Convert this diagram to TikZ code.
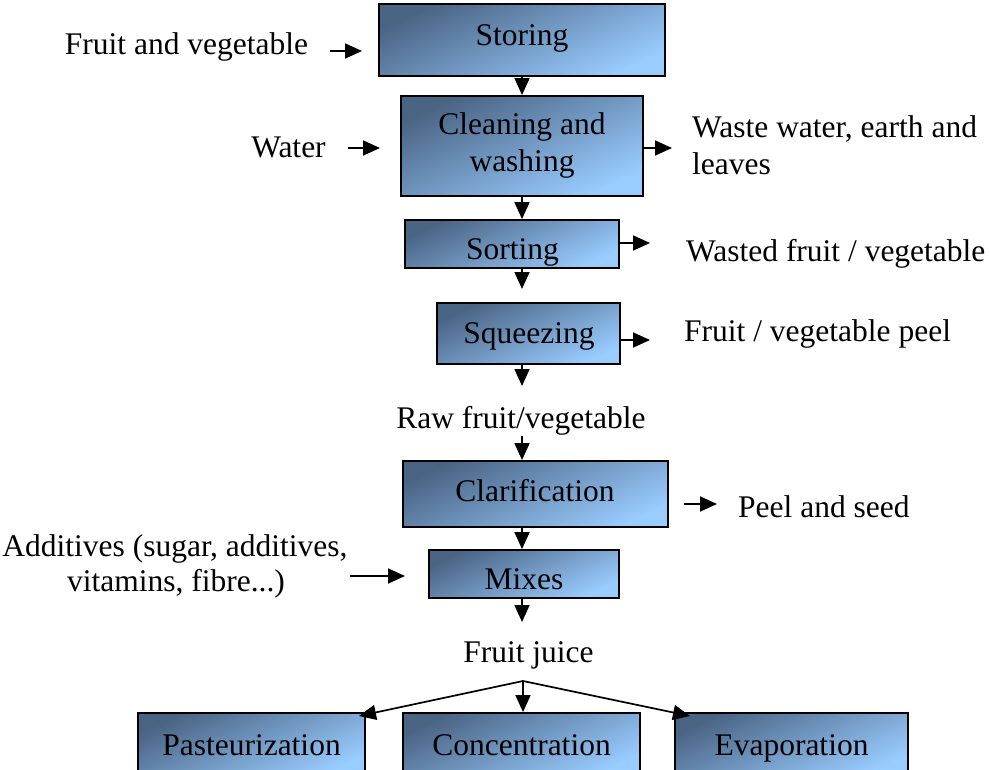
\documentclass[tikz,border=0pt]{standalone}
\usepackage{fontspec}
\setmainfont{Liberation Serif}
\usetikzlibrary{arrows.meta}
\definecolor{boxdark}{RGB}{74,100,132}
\definecolor{boxlight}{RGB}{153,204,255}
\tikzset{
  procbox/.style={draw=black, line width=1.8pt, inner sep=0pt,
    top color=boxdark, bottom color=boxlight, shading angle=25},
  lbl/.style={font=\fontsize{31.5}{37}\selectfont, inner sep=0pt, anchor=base},
  lbll/.style={lbl, anchor=base west},
  flow/.style={line width=1.7pt, -{Triangle[length=17pt,width=15pt]}},
}
\begin{document}
\begin{tikzpicture}[x=1pt,y=-1pt]
\clip (0,0) rectangle (990,770);
\fill[white] (0,0) rectangle (990,770);
\coordinate (c) at (522,0);
% boxes
\node[procbox, minimum width=286pt, minimum height=72pt] (storing) at (522,40) {};
\node[procbox, minimum width=242pt, minimum height=100pt] (cleaning) at (522,146) {};
\node[procbox, minimum width=214pt, minimum height=48pt] (sorting) at (512,244) {};
\node[procbox, minimum width=183pt, minimum height=61pt] (squeezing) at (528.5,333.5) {};
\node[procbox, minimum width=265pt, minimum height=66pt] (clarif) at (535.5,494) {};
\node[procbox, minimum width=190pt, minimum height=48pt] (mixes) at (524,574) {};
\node[procbox, minimum width=227pt, minimum height=62pt] (past) at (251.5,744) {};
\node[procbox, minimum width=237pt, minimum height=62pt] (conc) at (521.5,744) {};
\node[procbox, minimum width=233pt, minimum height=62pt] (evap) at (791.5,744) {};
% box texts
\node[lbl] (tstoring) at (522,46) {Storing};
\node[lbl] (tclean1) at (522,135) {Cleaning and};
\node[lbl] (tclean2) at (522,172) {washing};
\begin{scope}
  \clip ([yshift=1pt]sorting.south west) rectangle (sorting.north east);
  \node[lbl] (tsorting) at (512.5,259) {Sorting};
\end{scope}
\node[lbl] (tsqueeze) at (529,343) {Squeezing};
\node[lbl] (tclarif) at (535,501) {Clarification};
\node[lbl] (tmixes) at (524,589) {Mixes};
\node[lbl] (tpast) at (251.5,755) {Pasteurization};
\node[lbl] (tconc) at (521.5,755) {Concentration};
\node[lbl] (tevap) at (791.5,755) {Evaporation};
% side texts
\node[lbl] (fv) at (186.5,55) {Fruit and vegetable};
\node[lbl] (water) at (288.5,158) {Water};
\node[lbll] (waste1) at (692,138) {Waste water, earth and};
\node[lbll] (waste2) at (692,175) {leaves};
\node[lbll] (wasted) at (686,261) {Wasted fruit / vegetable};
\node[lbll] (peel) at (684,341) {Fruit / vegetable peel};
\node[lbl] (raw) at (521,428) {Raw fruit/vegetable};
\node[lbll] (seed) at (738,517) {Peel and seed};
\node[lbl] (add1) at (175,556) {Additives (sugar, additives,};
\node[lbl] (add2) at (176,591) {vitamins, fibre...)};
\node[lbl] (juice) at (528.5,662) {Fruit juice};
% free ends
\coordinate (fvs) at (330,51);   \coordinate (fve) at (362,51);
\coordinate (ws) at (348,148);   \coordinate (we) at (380,148);
\coordinate (wwe) at (672,148);
\coordinate (wfe) at (650,243);
\coordinate (pe) at (650,340);
\coordinate (sqb) at (522,289);
\coordinate (rawb) at (522,386);
\coordinate (rawa) at (522,436);
\coordinate (pss) at (684,504);  \coordinate (pse) at (717,504);
\coordinate (ads) at (350,576);  \coordinate (ade) at (405,576);
\coordinate (jb) at (522,622);
\coordinate (apex) at (523,681);
\coordinate (pt) at (359,716);
\coordinate (et) at (690,716);
% connectors
\draw[flow] (fvs) -- (fve);
\draw[flow] (ws) -- (we);
\draw[flow] (storing.south) -- (cleaning.north);
\draw[flow] (cleaning.east |- wwe) -- (wwe);
\draw[flow] (cleaning.south) -- (cleaning.south |- sorting.north);
\draw[flow] (sorting.east |- wfe) -- (wfe);
\draw[flow] (sorting.south -| c) -- (sqb);
\draw[flow] (squeezing.east |- pe) -- (pe);
\draw[flow] (squeezing.south -| c) -- (rawb);
\draw[flow] (rawa) -- (clarif.north -| c);
\draw[flow] (pss) -- (pse);
\draw[flow] (clarif.south -| c) -- (mixes.north -| c);
\draw[flow] (ads) -- (ade);
\draw[flow] (mixes.south -| c) -- (jb);
\draw[flow] (apex) -- (pt);
\draw[flow] (apex) -- (apex |- conc.north);
\draw[flow] (apex) -- (et);
\end{tikzpicture}
\end{document}
